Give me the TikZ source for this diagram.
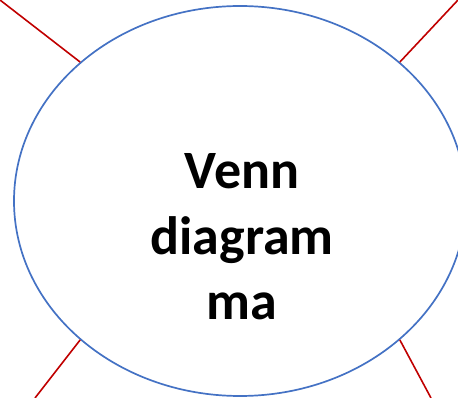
\documentclass[tikz,border=0pt]{standalone}
\usepackage{fontspec}
\setmainfont{Carlito}
\usepackage{tikz}
\usetikzlibrary{shapes.geometric}
\usepackage{xcolor}
\definecolor{vennblue}{RGB}{68,114,196}
\definecolor{linkred}{RGB}{192,0,0}

\begin{document}
\begin{tikzpicture}[x=1pt, y=-1pt,
    venn/.style={ellipse, draw=vennblue, line width=1.7pt, minimum width=452pt, minimum height=390pt, inner sep=0pt},
    link/.style={draw=linkred, line width=1.6pt},
    vtext/.style={font=\fontsize{54}{65.5}\selectfont\bfseries, align=center}]
\useasboundingbox (0,0) rectangle (458,398);
\clip (0,0) rectangle (458,398);
\node[venn] (venn) at (240,201) {};
\node[vtext] (title) at (242,237) {Venn\\diagram\\ma};
\coordinate (tl) at (0,0);
\coordinate (tr) at (458,0);
\coordinate (bl) at (35,398);
\coordinate (br) at (431,398);
\draw[link] (venn.139) -- (tl);
\draw[link] (venn.41) -- (tr);
\draw[link] (venn.221) -- (bl);
\draw[link] (venn.319) -- (br);
\end{tikzpicture}
\end{document}
